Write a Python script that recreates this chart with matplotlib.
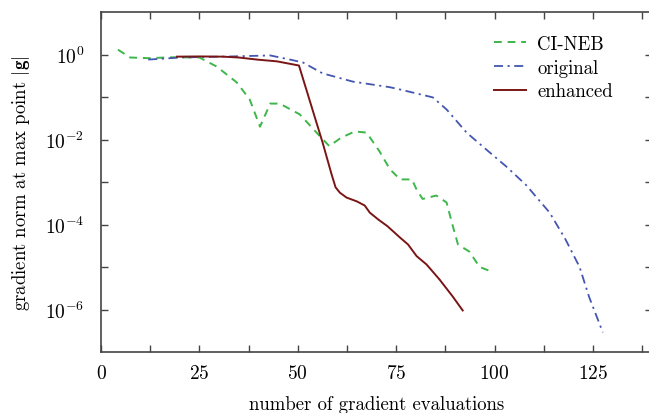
import matplotlib
matplotlib.use("Agg")
import matplotlib.pyplot as plt
from matplotlib.ticker import FixedLocator, NullFormatter, LogFormatterSciNotation

# data (x: gradient evaluations, y: gradient norm)
cineb_x = [4.3, 7.4, 12, 18, 25, 29.4, 34.5, 37.8, 40.4, 43, 45.4, 50.5, 55.6, 58,
           61, 64.5, 67.5, 70.8, 73.4, 76, 79, 80.2, 81.7, 85.2, 87.8, 89.4, 90.7,
           93.6, 96.2, 97.9, 99.8]
cineb_y = [1.3, 0.85, 0.82, 0.86, 0.85, 0.52, 0.22, 0.087, 0.02, 0.07, 0.07, 0.039,
           0.012, 0.007, 0.011, 0.0155, 0.0145, 0.0052, 0.002, 0.00115, 0.00115,
           0.00066, 0.0004, 0.00048, 0.00033, 9.1e-05, 3.4e-05, 2.3e-05, 1.0e-05,
           8.7e-06, 7.4e-06]

orig_x = [12, 16, 20, 25, 33, 43, 48, 51.3, 56.3, 64, 73.4, 76, 84.3, 87.8, 92.9,
          97.9, 103, 108, 114, 118, 121.6, 124, 127.5]
orig_y = [0.76, 0.8, 0.85, 0.87, 0.9, 0.95, 0.76, 0.65, 0.36, 0.23, 0.17, 0.15,
          0.098, 0.051, 0.0145, 0.0058, 0.0023, 0.00085, 0.00019, 4.5e-05, 1.0e-05,
          2.0e-06, 2.9e-07]

enh_x = [19.3, 25, 31, 35, 39.6, 44.7, 50.3, 56.3, 58.6, 59.6, 60.7, 62.4, 65,
         67, 68.3, 70.5, 72.8, 76, 78, 80.2, 82.7, 86, 89.4, 91.9]
enh_y = [0.89, 0.9, 0.89, 0.85, 0.76, 0.69, 0.55, 0.0085, 0.0015, 0.00075,
         0.00056, 0.00043, 0.00035, 0.00028, 0.00019, 0.00013, 9.1e-05, 4.9e-05,
         3.4e-05, 1.8e-05, 1.15e-05, 5.1e-06, 2.0e-06, 9.5e-07]

x_ticks = [0, 25, 50, 75, 100, 125]

plt.rcParams["font.family"] = ["cmr10", "DejaVu Serif"]
plt.rcParams["mathtext.fontset"] = "cm"
plt.rcParams["axes.unicode_minus"] = False
plt.rcParams["axes.formatter.use_mathtext"] = True

fig = plt.figure(figsize=(6.49, 4.14), dpi=100)
ax = fig.add_axes([101 / 649, 61 / 414, 551 / 649, 340 / 414])

ax.semilogy(cineb_x, cineb_y, color="#3db64a", ls=(0, (4, 3)), lw=1.4, label="CI-NEB")
ax.semilogy(orig_x, orig_y, color="#4456b0", ls=(0, (5, 2.5, 1.2, 2.5)), lw=1.3,
            label="original")
ax.semilogy(enh_x, enh_y, color="#7a1515", lw=1.4, label="enhanced")

ax.set_xlim(0, 140)
ax.set_ylim(1e-7, 1e1)
ax.set_xticks(x_ticks)
ax.xaxis.set_minor_locator(FixedLocator([12.5, 37.5, 62.5, 87.5, 112.5, 137.5]))
ax.yaxis.set_major_locator(FixedLocator([1e-6, 1e-4, 1e-2, 1e0]))
ax.yaxis.set_major_formatter(LogFormatterSciNotation())
ax.yaxis.set_minor_locator(FixedLocator([1e-5, 1e-3, 1e-1]))
ax.yaxis.set_minor_formatter(NullFormatter())

ax.tick_params(which="both", direction="in", top=True, right=True, length=5,
               width=1, color="#444444", labelsize=14)
ax.tick_params(axis="x", pad=9)
ax.tick_params(axis="y", pad=12)
for s in ax.spines.values():
    s.set_color("#444444")
    s.set_linewidth(1.2)

ax.set_xlabel("number of gradient evaluations", fontsize=13.5, labelpad=9)
ax.set_ylabel(r"gradient norm at max point $|\mathbf{g}|$", fontsize=13.5, labelpad=9)

ax.legend(loc="upper right", bbox_to_anchor=(0.96, 0.982), frameon=False,
          fontsize=13.5, handlelength=1.7, handletextpad=0.6, labelspacing=0.3)

fig.savefig("out.png", dpi=100)
